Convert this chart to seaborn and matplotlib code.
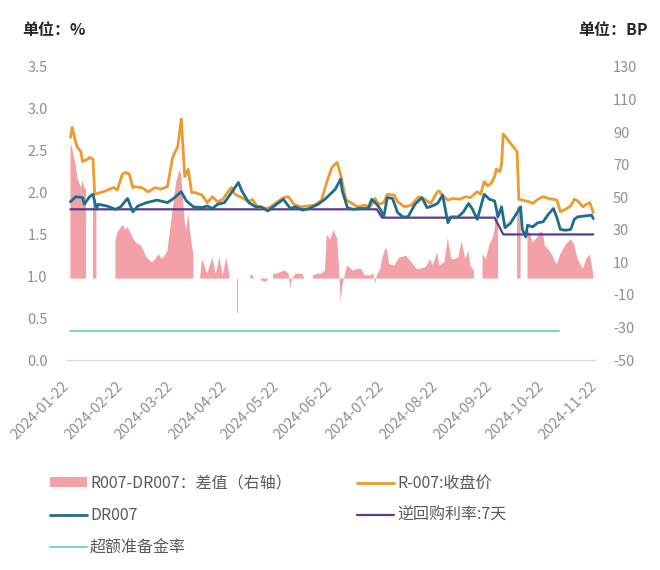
import numpy as np
import pandas as pd
import matplotlib
matplotlib.use("Agg")
import matplotlib.pyplot as plt
from matplotlib.patches import Patch
from matplotlib.lines import Line2D
import seaborn as sns

sns.set_style("white")
plt.rcParams['font.family'] = ['Noto Sans CJK SC', 'DejaVu Sans']

nan = np.nan

# ---------------- data ----------------
r007_dates = ["2024-01-24", "2024-01-25", "2024-01-27", "2024-01-28", "2024-01-30", "2024-01-31",
              "2024-02-03", "2024-02-04", "2024-02-06", "2024-02-07", "2024-02-12", "2024-02-18",
              "2024-02-20", "2024-02-23", "2024-02-25", "2024-02-27", "2024-02-29", "2024-03-01",
              "2024-03-05", "2024-03-09", "2024-03-13", "2024-03-16", "2024-03-20", "2024-03-23",
              "2024-03-26", "2024-03-27", "2024-03-28", "2024-03-30", "2024-04-01", "2024-04-03",
              "2024-04-05", "2024-04-09", "2024-04-12", "2024-04-15", "2024-04-18", "2024-04-21",
              "2024-04-24", "2024-04-26", "2024-04-28", "2024-05-02", "2024-05-06", "2024-05-08",
              "2024-05-11", "2024-05-17", "2024-05-22", "2024-05-26", "2024-05-29", "2024-06-01",
              "2024-06-05", "2024-06-09", "2024-06-13", "2024-06-17", "2024-06-20", "2024-06-23",
              "2024-06-26", "2024-06-28", "2024-07-01", "2024-07-03", "2024-07-08", "2024-07-12",
              "2024-07-15", "2024-07-18", "2024-07-20", "2024-07-23", "2024-07-25", "2024-07-29",
              "2024-07-31", "2024-08-04", "2024-08-08", "2024-08-12", "2024-08-15", "2024-08-19",
              "2024-08-23", "2024-08-24", "2024-08-26", "2024-08-29", "2024-09-01", "2024-09-05",
              "2024-09-08", "2024-09-11", "2024-09-15", "2024-09-17", "2024-09-18", "2024-09-19",
              "2024-09-21", "2024-09-23", "2024-09-25", "2024-09-26", "2024-09-28", "2024-09-29",
              "2024-09-30", "2024-10-08", "2024-10-09", "2024-10-11", "2024-10-15", "2024-10-17",
              "2024-10-20", "2024-10-23", "2024-10-26", "2024-10-29", "2024-10-31", "2024-11-02",
              "2024-11-05", "2024-11-08", "2024-11-10", "2024-11-12", "2024-11-15", "2024-11-17",
              "2024-11-19", "2024-11-21"]
r007_values = [2.66, 2.78, 2.60, 2.54, 2.49, 2.37,
               2.40, 2.42, 2.40, 1.98, 2.01, 2.06,
               2.03, 2.22, 2.24, 2.22, 2.06, 2.07,
               2.06, 2.01, 2.06, 2.04, 2.07, 2.42,
               2.55, 2.72, 2.88, 2.19, 2.28, 2.00,
               2.00, 1.97, 1.88, 1.95, 1.89, 1.92,
               2.01, 2.06, 1.98, 1.94, 1.89, 1.92,
               1.83, 1.81, 1.88, 1.94, 1.95, 1.86,
               1.83, 1.84, 1.85, 1.91, 2.12, 2.30,
               2.36, 2.22, 1.92, 1.89, 1.83, 1.85,
               1.83, 1.93, 1.86, 1.88, 1.98, 1.97,
               1.89, 1.83, 1.85, 1.95, 1.93, 1.87,
               2.01, 2.02, 1.96, 1.91, 1.93, 1.92,
               1.95, 1.94, 2.01, 1.98, 2.06, 2.13,
               2.08, 2.11, 2.19, 2.28, 2.25, 2.34,
               2.70, 2.49, 1.92, 1.91, 1.89, 1.87,
               1.92, 1.95, 1.93, 1.92, 1.91, 1.77,
               1.80, 1.84, 1.92, 1.90, 1.83, 1.86,
               1.88, 1.76]

dr007_dates = ["2024-01-24", "2024-01-27", "2024-01-31", "2024-02-01", "2024-02-04", "2024-02-06",
               "2024-02-08", "2024-02-09", "2024-02-14", "2024-02-19", "2024-02-22", "2024-02-26",
               "2024-02-29", "2024-03-03", "2024-03-08", "2024-03-14", "2024-03-20", "2024-03-23",
               "2024-03-28", "2024-03-31", "2024-04-04", "2024-04-09", "2024-04-12", "2024-04-15",
               "2024-04-18", "2024-04-22", "2024-04-26", "2024-04-30", "2024-05-02", "2024-05-06",
               "2024-05-10", "2024-05-13", "2024-05-17", "2024-05-22", "2024-05-26", "2024-05-30",
               "2024-06-02", "2024-06-06", "2024-06-10", "2024-06-15", "2024-06-19", "2024-06-22",
               "2024-06-25", "2024-06-28", "2024-06-29", "2024-07-02", "2024-07-05", "2024-07-09",
               "2024-07-14", "2024-07-16", "2024-07-19", "2024-07-21", "2024-07-23", "2024-07-25",
               "2024-07-28", "2024-07-31", "2024-08-03", "2024-08-06", "2024-08-10", "2024-08-14",
               "2024-08-17", "2024-08-20", "2024-08-23", "2024-08-26", "2024-08-29", "2024-08-31",
               "2024-09-04", "2024-09-07", "2024-09-10", "2024-09-12", "2024-09-15", "2024-09-17",
               "2024-09-19", "2024-09-22", "2024-09-25", "2024-09-27", "2024-09-29", "2024-10-01",
               "2024-10-04", "2024-10-08", "2024-10-10", "2024-10-11", "2024-10-13", "2024-10-14",
               "2024-10-17", "2024-10-20", "2024-10-23", "2024-10-26", "2024-10-29", "2024-10-31",
               "2024-11-02", "2024-11-05", "2024-11-08", "2024-11-10", "2024-11-12", "2024-11-16",
               "2024-11-20", "2024-11-21"]
dr007_values = [1.89, 1.95, 1.94, 1.86, 1.95, 1.98,
                1.80, 1.86, 1.84, 1.80, 1.83, 1.93,
                1.77, 1.84, 1.88, 1.91, 1.88, 1.92,
                2.01, 1.90, 1.83, 1.82, 1.84, 1.81,
                1.86, 1.88, 2.00, 2.12, 2.02, 1.88,
                1.83, 1.83, 1.78, 1.86, 1.92, 1.81,
                1.83, 1.79, 1.81, 1.86, 1.92, 1.98,
                2.04, 2.16, 2.02, 1.82, 1.80, 1.81,
                1.81, 1.92, 1.86, 1.80, 1.71, 1.94,
                1.93, 1.76, 1.71, 1.71, 1.86, 1.94,
                1.82, 1.84, 1.87, 1.97, 1.64, 1.71,
                1.71, 1.77, 1.87, 1.81, 1.68, 1.83,
                1.98, 1.92, 1.90, 1.71, 1.83, 1.58,
                1.63, 1.76, 1.83, 1.56, 1.47, 1.61,
                1.59, 1.64, 1.65, 1.74, 1.81, 1.70,
                1.56, 1.55, 1.56, 1.68, 1.71, 1.72,
                1.73, 1.69]

spread_dates = ["2024-01-24", "2024-01-25", "2024-01-27", "2024-01-28", "2024-01-30", "2024-01-31",
                "2024-02-01", "2024-02-02", "2024-02-04", "2024-02-06", "2024-02-08", "2024-02-12",
                "2024-02-19", "2024-02-20", "2024-02-23", "2024-02-25", "2024-02-26", "2024-02-29",
                "2024-03-02", "2024-03-05", "2024-03-08", "2024-03-11", "2024-03-13", "2024-03-15",
                "2024-03-17", "2024-03-19", "2024-03-20", "2024-03-23", "2024-03-25", "2024-03-27",
                "2024-03-28", "2024-03-30", "2024-03-31", "2024-04-01", "2024-04-03", "2024-04-04",
                "2024-04-06", "2024-04-08", "2024-04-09", "2024-04-12", "2024-04-15", "2024-04-17",
                "2024-04-19", "2024-04-21", "2024-04-23", "2024-04-25", "2024-04-27", "2024-04-29",
                "2024-04-30", "2024-05-03", "2024-05-07", "2024-05-08", "2024-05-09", "2024-05-11",
                "2024-05-13", "2024-05-16", "2024-05-17", "2024-05-18", "2024-05-20", "2024-05-22",
                "2024-05-24", "2024-05-27", "2024-05-29", "2024-05-30", "2024-05-31", "2024-06-02",
                "2024-06-06", "2024-06-07", "2024-06-09", "2024-06-12", "2024-06-15", "2024-06-17",
                "2024-06-19", "2024-06-20", "2024-06-22", "2024-06-24", "2024-06-25", "2024-06-26",
                "2024-06-27", "2024-06-28", "2024-06-29", "2024-07-01", "2024-07-02", "2024-07-05",
                "2024-07-08", "2024-07-10", "2024-07-12", "2024-07-15", "2024-07-17", "2024-07-18",
                "2024-07-19", "2024-07-21", "2024-07-22", "2024-07-24", "2024-07-25", "2024-07-26",
                "2024-07-29", "2024-08-01", "2024-08-05", "2024-08-08", "2024-08-11", "2024-08-13",
                "2024-08-16", "2024-08-19", "2024-08-20", "2024-08-23", "2024-08-24", "2024-08-27",
                "2024-08-29", "2024-08-31", "2024-09-02", "2024-09-04", "2024-09-06", "2024-09-08",
                "2024-09-10", "2024-09-11", "2024-09-13", "2024-09-15", "2024-09-18", "2024-09-20",
                "2024-09-22", "2024-09-24", "2024-09-25", "2024-09-26", "2024-09-27", "2024-10-01",
                "2024-10-08", "2024-10-10", "2024-10-12", "2024-10-14", "2024-10-15", "2024-10-17",
                "2024-10-20", "2024-10-21", "2024-10-23", "2024-10-24", "2024-10-26", "2024-10-28",
                "2024-10-30", "2024-10-31", "2024-11-02", "2024-11-05", "2024-11-08", "2024-11-10",
                "2024-11-12", "2024-11-15", "2024-11-17", "2024-11-19", "2024-11-21"]
spread_values = [83, 80, 70, 62, 56, 60,
                 56, 55, nan, 52, 46, nan,
                 23, 28, 33, 30, 32, 25,
                 22, 20, 13, 10, 12, 15,
                 12, 15, 17, 42, 59, 67,
                 64, 35, 30, 40, 21, 15,
                 nan, 2, 12, 3, 13, 3,
                 13, 2, 13, 1, nan, -21,
                 -21, nan, 3, 2, 0.5, nan,
                 -1, -2, -0.5, nan, 3, 3,
                 4, 5, 3, -6, 0, 3,
                 3, 0.5, nan, 2, 3, 3,
                 5, 27, 24, 30, 27, 25,
                 10, -14, -5, 5, 8, 5,
                 6, 6, 2, 2, 3, -3,
                 2, 6, 12, 19, 17, 9,
                 8, 13, 14, 10, 6, 6,
                 7, 12, 8, 16, 8, 10,
                 25, 12, 12, 13, 23, 12,
                 17, 8, 5, nan, 15, 12,
                 21, 25, 30, 45, 40, nan,
                 45, 42, nan, 29, 29, 22,
                 26, 29, 28, 20, 18, 15,
                 10, 9, 15, 21, 24, 21,
                 12, 6, 12, 15, 3]

repo_dates = ["2024-01-24", "2024-07-19", "2024-07-22", "2024-09-25", "2024-09-30", "2024-11-21"]
repo_values = [1.80, 1.80, 1.70, 1.70, 1.50, 1.50]

excess_dates = ["2024-01-24", "2024-11-01"]
excess_values = [0.35, 0.35]

xtick_labels = ["2024-01-22", "2024-02-22", "2024-03-22", "2024-04-22", "2024-05-22", "2024-06-22",
                "2024-07-22", "2024-08-22", "2024-09-22", "2024-10-22", "2024-11-22"]
left_ticks = [0.0, 0.5, 1.0, 1.5, 2.0, 2.5, 3.0, 3.5]
right_ticks = [-50, -30, -10, 10, 30, 50, 70, 90, 110, 130]

labels = ["R007-DR007：差值（右轴）", "DR007", "超额准备金率", "R-007:收盘价", "逆回购利率:7天"]

# ---------------- styles ----------------
PINK = "#F2A1A6"
ORANGE = "#EE9A2E"
BLUE = "#1F6D8E"
PURPLE = "#5A3B8E"
TEAL = "#6FD0C2"
GREY = "#8F8F8F"

W, H = 660, 570
fig = plt.figure(figsize=(W / 100, H / 100), dpi=100)
ax = fig.add_axes([67 / W, 1 - 360 / H, 528 / W, 293 / H])
ax2 = ax.twinx()

ax2.fill_between(pd.to_datetime(spread_dates), 0, np.array(spread_values, dtype=float),
                 color=PINK, linewidth=0)

ax.set_zorder(ax2.get_zorder() + 1)
ax.patch.set_visible(False)

sns.lineplot(x=pd.to_datetime(excess_dates), y=excess_values, ax=ax, color=TEAL, linewidth=1.3)
sns.lineplot(x=pd.to_datetime(repo_dates), y=repo_values, ax=ax, color=PURPLE, linewidth=1.6)
sns.lineplot(x=pd.to_datetime(r007_dates), y=r007_values, ax=ax, color=ORANGE, linewidth=2.0)
sns.lineplot(x=pd.to_datetime(dr007_dates), y=dr007_values, ax=ax, color=BLUE, linewidth=2.0)

ax.set_xlim(pd.Timestamp(xtick_labels[0]), pd.Timestamp(xtick_labels[-1]))
ax.set_ylim(0, 3.5)
ax2.set_ylim(-50, 130)

ax.set_yticks(left_ticks)
ax.set_yticklabels([f"{v:.1f}" for v in left_ticks])
ax2.set_yticks(right_ticks)
ax2.set_yticklabels([str(v) for v in right_ticks])

ax.set_xticks(pd.to_datetime(xtick_labels))
ax.set_xticklabels(xtick_labels, rotation=45, ha="right", va="center", rotation_mode="anchor")

ax.set_xlabel("")
ax.set_ylabel("")
ax2.set_ylabel("")

for a in (ax, ax2):
    for s in ("top", "left", "right"):
        a.spines[s].set_visible(False)
ax2.spines["bottom"].set_visible(False)
ax.spines["bottom"].set_color("#D9D9D9")
ax.spines["bottom"].set_linewidth(1.0)

ax.tick_params(axis="x", length=4, width=1, color="#D9D9D9", pad=13, labelsize=10.5, labelcolor=GREY)
ax.tick_params(axis="y", length=0, pad=14, labelsize=10.5, labelcolor=GREY)
ax2.tick_params(axis="y", length=0, pad=13, labelsize=10.5, labelcolor=GREY)

fig.text(22 / W, 1 - 30 / H, "单位：%", ha="left", va="center", fontsize=11.5,
         fontweight="bold", color="#262626")
fig.text(648 / W, 1 - 30 / H, "单位：BP", ha="right", va="center", fontsize=11.5,
         fontweight="bold", color="#262626")

handles = [Patch(facecolor=PINK, edgecolor="none"),
           Line2D([], [], color=BLUE, linewidth=2.0),
           Line2D([], [], color=TEAL, linewidth=1.3),
           Line2D([], [], color=ORANGE, linewidth=2.0),
           Line2D([], [], color=PURPLE, linewidth=1.6)]
leg = fig.legend(handles, labels, loc="upper left", bbox_to_anchor=(50 / W, 1 - 475 / H),
                 ncol=2, frameon=False, fontsize=11.5, handlelength=2.3, handleheight=0.6,
                 handletextpad=0.2, labelspacing=0.95, columnspacing=4.1,
                 borderaxespad=0, borderpad=0)
for t in leg.get_texts():
    t.set_color("#595959")

fig.savefig("out.png", dpi=100)
